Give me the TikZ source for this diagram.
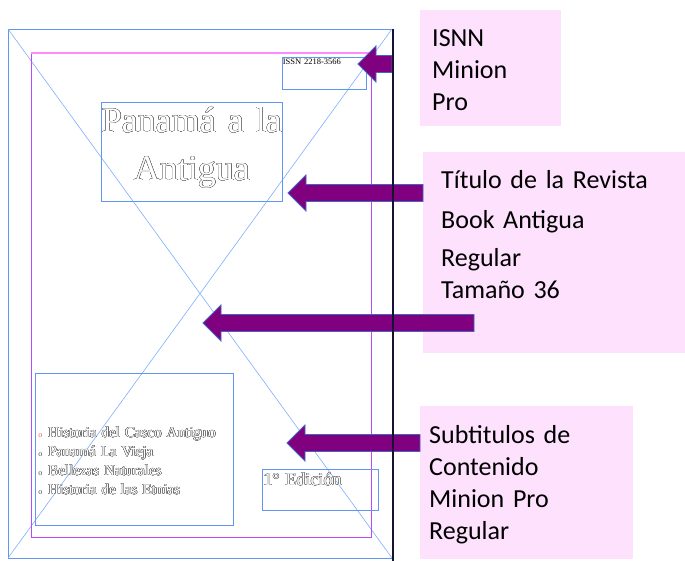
\documentclass[tikz,border=0pt]{standalone}
\usepackage{xcolor}
\usepackage{tikz}
\usetikzlibrary{calc}
\usepackage{fontspec}
\setmainfont{Liberation Serif}
\newfontfamily\lblfont{Carlito}
\usepackage{contour}
\contourlength{0.35pt}
\definecolor{CvFrame}{RGB}{96,150,240}
\definecolor{CvDiag}{RGB}{125,175,255}
\definecolor{CvMarginTop}{RGB}{255,140,255}
\definecolor{CvMargin}{RGB}{180,75,255}
\definecolor{CvEdge}{RGB}{20,20,50}
\definecolor{CvPink}{RGB}{253,225,253}
\definecolor{CvPurple}{RGB}{128,0,128}
\definecolor{CvArrEdge}{RGB}{65,100,190}
\definecolor{CvOutline}{RGB}{95,95,95}
\definecolor{CvBullet}{RGB}{230,90,100}
\newcommand\hollow[1]{\contour{CvOutline}{#1}}
\newcommand\listbul[1]{\makebox[10pt][l]{\textcolor{#1}{\fontsize{8}{8}\selectfont o}}}

\begin{document}
\begin{tikzpicture}[x=1pt, y=-1pt,
      fbox/.style={draw=CvFrame, line width=0.8pt, anchor=north west,
                   inner ysep=0pt, align=left},
      lbl/.style={fill=CvPink, anchor=north west, inner ysep=0pt, align=left,
                  font=\lblfont\fontsize{26}{32}\selectfont},
      barr/.style={fill=CvPurple, draw=CvArrEdge, line width=0.8pt,
                   to path={let \p1=(\tikztostart), \p2=(\tikztotarget) in
                     (\x1,\y1+8.5pt) -- (\x2+18pt,\y1+8.5pt) -- (\x2+18pt,\y1+18pt)
                     -- (\x2,\y2) -- (\x2+18pt,\y1-18pt) -- (\x2+18pt,\y1-8.5pt)
                     -- (\x1,\y1-8.5pt) -- cycle}}
    ]
    \useasboundingbox (0,0) rectangle (685,561);

    \draw[CvFrame, line width=0.8pt] (8,29) rectangle (392,558);
    \draw[CvDiag, line width=0.6pt] (8,29) -- (392,558) (392,29) -- (8,558);
    \draw[CvMargin, line width=1pt] (31,53) -- (31,537) -- (371,537) -- (371,53);
    \draw[CvMarginTop, line width=1.4pt] (31,53) -- (371,53);

    \node[fbox, text width=83pt, inner xsep=0.5pt, text height=7pt, text depth=25pt,
          font=\fontsize{8.5}{9}\selectfont]                   (issn)    at (282,57)
          {ISSN 2218-3566};
    \node[fbox, text width=181pt, inner xsep=0pt, align=center, text height=30pt,
          text depth=69pt, font=\fontsize{36}{48}\selectfont, text=white] (title) at (101,102)
          {\hollow{Panamá a la}\\\hollow{Antigua}};
    \node[fbox, text width=192pt, inner xsep=3pt, text height=64pt, text depth=88pt,
          font=\fontsize{15}{19}\selectfont, text=white]        (temas)   at (35,373)
          {\listbul{CvBullet}\hollow{Historia del Casco Antiguo}\\
           \listbul{black!70}\hollow{Panamá La Vieja}\\
           \listbul{black!70}\hollow{Bellezas Naturales}\\
           \listbul{black!70}\hollow{Historia de las Etnias}};
    \node[fbox, text width=114pt, inner xsep=1pt, text height=16pt, text depth=25pt,
          font=\fontsize{18}{20}\selectfont, text=white]        (edicion) at (262,469)
          {\hollow{1° Edición}};

    \node[lbl, text width=117pt, inner xsep=12pt, text height=36pt, text depth=80pt]
          (isnnlbl) at (420,10) {ISNN\\Minion\\Pro};
    \node[lbl, text width=226pt, inner xsep=18pt, text height=36pt, text depth=165pt]
          (revlbl)  at (423,152)
          {Título de la Revista\\[8pt]Book Antigua\\[6pt]Regular\\Tamaño 36};
    \node[lbl, text width=195pt, inner xsep=9pt, text height=37pt, text depth=116pt]
          (sublbl)  at (420,406) {Subtitulos de\\Contenido\\Minion Pro\\Regular};

    \coordinate (pageedge) at (392,29);
    \coordinate (issntip)  at (358,64);
    \coordinate (titletip) at (288,193);
    \coordinate (midtail)  at (474,323);
    \coordinate (midtip)   at (203,323);
    \coordinate (subtip)   at (287,443);

    \draw[barr] (pageedge |- issntip)  to (issntip);
    \draw[barr] (revlbl.west |- titletip) to (titletip);
    \draw[barr] (midtail) to (midtip);
    \draw[barr] (sublbl.west |- subtip) to (subtip);

    \draw[CvEdge, line width=2pt] (393,29) -- (393,561);
  \end{tikzpicture}
\end{document}
